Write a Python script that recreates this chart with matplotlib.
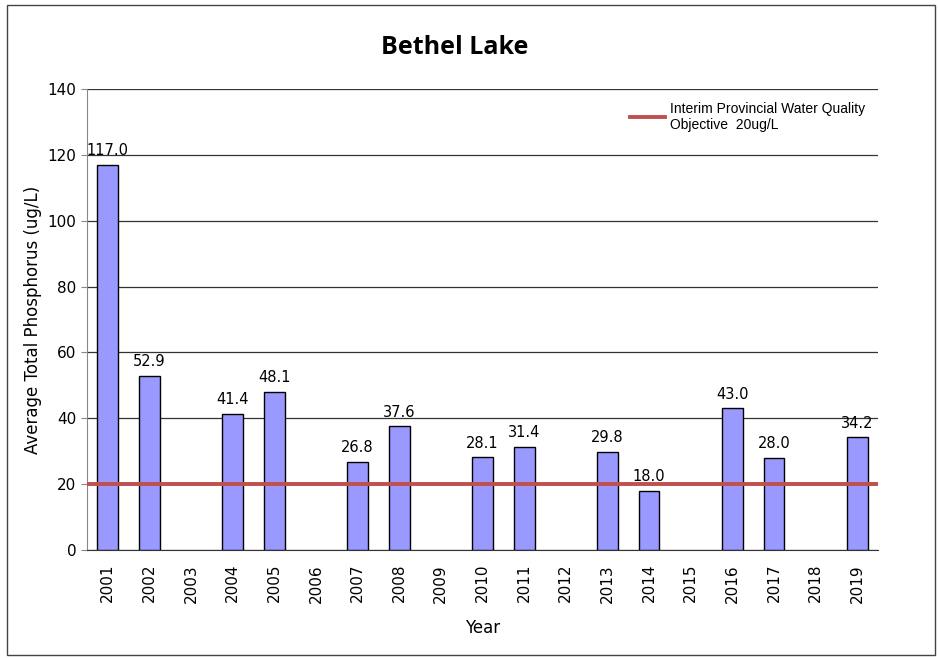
import matplotlib
matplotlib.use("Agg")
import matplotlib.pyplot as plt
import numpy as np
from matplotlib.patches import Rectangle

years = ["2001","2002","2003","2004","2005","2006","2007","2008","2009","2010",
         "2011","2012","2013","2014","2015","2016","2017","2018","2019"]
values = [117.0, 52.9, None, 41.4, 48.1, None, 26.8, 37.6, None, 28.1,
          31.4, None, 29.8, 18.0, None, 43.0, 28.0, None, 34.2]
objective = 20
yticks = [0, 20, 40, 60, 80, 100, 120, 140]

fig = plt.figure(figsize=(9.38, 6.58), dpi=100)
fig.patches.append(Rectangle((7/938, 3/658), 928/938, 650/658, transform=fig.transFigure,
                             fill=False, edgecolor="#444444", linewidth=1.0))
ax = fig.add_axes([87/938, 1-550/658, 791/938, 461/658])

x = np.arange(len(years))
for i, v in enumerate(values):
    if v is None:
        continue
    ax.bar(x[i], v, width=0.5, color="#9999FF", edgecolor="black", linewidth=1.0, zorder=3)
    ax.text(x[i], v + 2, f"{v:.1f}", ha="center", va="bottom", fontsize=10.5,
            family="DejaVu Sans", zorder=4)

ax.axhline(objective, color="#C0504D", linewidth=2.8, zorder=5,
           label="Interim Provincial Water Quality\nObjective  20ug/L")

ax.set_xlim(-0.5, len(years) - 0.5)
ax.set_ylim(0, 140)
ax.set_yticks(yticks)
ax.yaxis.grid(True, color="#333333", linewidth=0.9, zorder=0)
ax.set_axisbelow(True)
ax.set_xticks(x)
ax.set_xticklabels(years, rotation=90, fontsize=11)
ax.tick_params(axis="x", length=0, pad=10)
ax.tick_params(axis="y", labelsize=11, length=4, color="#888888")
for s in ["top", "right"]:
    ax.spines[s].set_visible(False)
ax.spines["left"].set_color("#888888")
ax.spines["bottom"].set_color("#333333")

ax.set_ylabel("Average Total Phosphorus (ug/L)", fontsize=12)
ax.set_xlabel("Year", fontsize=12, labelpad=12)
fig.text(0.485, 1-47/658, "Bethel Lake", ha="center", va="center", fontsize=18,
         fontweight="bold", family="Open Sans")

leg = ax.legend(loc="upper right", frameon=False,
                prop={"family": "Liberation Sans", "size": 10},
                handlelength=2.5, handletextpad=0.4, bbox_to_anchor=(1.0, 1.0))

fig.savefig("out.png", dpi=100)
